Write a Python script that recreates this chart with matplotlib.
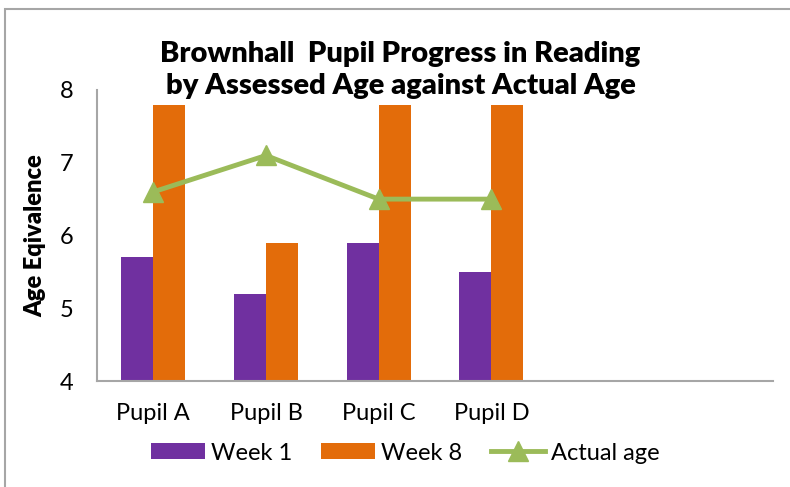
import matplotlib
matplotlib.use("Agg")
import matplotlib.pyplot as plt
import numpy as np
from matplotlib.patches import Rectangle

# chart data
pupils = ["Pupil A", "Pupil B", "Pupil C", "Pupil D", "", ""]
week1 = [5.7, 5.2, 5.9, 5.5, np.nan, np.nan]
week8 = [7.8, 5.9, 7.8, 7.8, np.nan, np.nan]
actual_age = [6.6, 7.1, 6.5, 6.5, np.nan, np.nan]
y_ticks = [4, 5, 6, 7, 8]

purple = "#7030A0"
orange = "#E36C0A"
green = "#9BBB59"
axis_grey = "#A6A6A6"

plt.rcParams["font.family"] = ["Lato", "DejaVu Sans"]


def main():
    fig = plt.figure(figsize=(7.9, 4.87), dpi=100)
    ax = fig.add_axes([97 / 790, 1 - 381 / 487, 676 / 790, 291 / 487])

    x = np.arange(len(pupils))
    w = 0.283
    b1 = ax.bar(x - w / 2, week1, w, color=purple, label="Week 1")
    b8 = ax.bar(x + w / 2, week8, w, color=orange, label="Week 8")
    ln, = ax.plot(x, actual_age, color=green, lw=3.5, marker="^", ms=14,
                  label="Actual age")

    ax.set_xlim(-0.5, len(pupils) - 0.5)
    ax.set_ylim(4, 8)
    ax.set_yticks(y_ticks)
    ax.set_xticks(x)
    ax.set_xticklabels(pupils)
    ax.tick_params(axis="y", length=0, pad=17, labelsize=17)
    ax.tick_params(axis="x", length=0, pad=16, labelsize=17)

    for s in ["top", "right"]:
        ax.spines[s].set_visible(False)
    for s in ["left", "bottom"]:
        ax.spines[s].set_color(axis_grey)
        ax.spines[s].set_linewidth(1.5)

    ax.set_ylabel("Age Eqivalence", fontsize=17, fontweight="heavy")
    ax.yaxis.set_label_coords(-0.075, 0.5)

    fig.text(0.507, 1 - 70 / 487, "Brownhall  Pupil Progress in Reading\nby Assessed Age against Actual Age",
             ha="center", va="center", fontsize=21, fontweight="heavy",
             linespacing=1.3)

    fig.legend(handles=[b1, b8, ln], loc="center",
               bbox_to_anchor=(0.513, 1 - 453 / 487), ncol=3,
               frameon=False, fontsize=17, handlelength=2.3,
               handleheight=0.65, handletextpad=0.25, columnspacing=1.2)

    # outer chart border
    fig.patches.append(Rectangle((5 / 790, -0.2), 1.2, 1.2 - 9 / 487,
                                 transform=fig.transFigure, fill=False,
                                 edgecolor=axis_grey, lw=1.5))

    fig.savefig("out.png", dpi=100)


if __name__ == "__main__":
    main()
